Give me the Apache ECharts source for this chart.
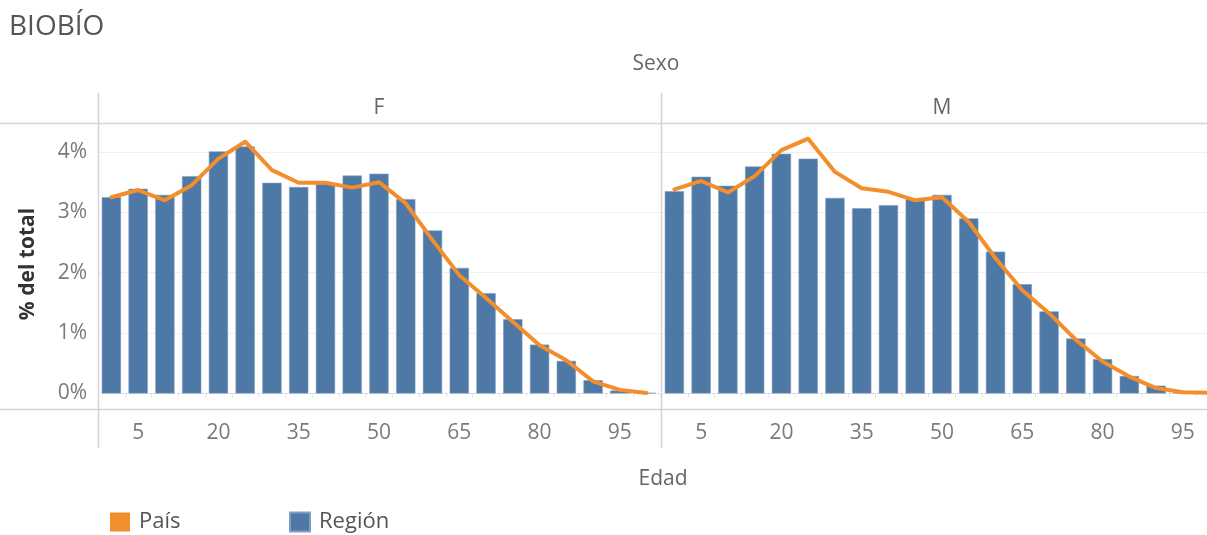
<!DOCTYPE html>
<html>
<head>
<meta charset="utf-8">
<script src="https://cdn.jsdelivr.net/npm/echarts@6/dist/echarts.min.js"></script>
<style>
  html, body { margin: 0; padding: 0; background: #fff; }
  #chart { width: 1207px; height: 535px; }
</style>
</head>
<body>
<div id="chart"></div>
<script>
// age groups (Edad), one bar per group
var ages = ["0", "5", "10", "15", "20", "25", "30", "35", "40", "45", "50",
    "55", "60", "65", "70", "75", "80", "85", "90", "95", "100"];

// % del total, mujeres
var regionF = [3.25, 3.39, 3.29, 3.60, 4.01, 4.09, 3.49, 3.42, 3.47, 3.61, 3.64,
    3.22, 2.70, 2.08, 1.66, 1.23, 0.81, 0.54, 0.22, 0.05, 0.01];
var paisF = [3.25, 3.37, 3.20, 3.45, 3.89, 4.17, 3.70, 3.49, 3.49, 3.41, 3.50,
    3.15, 2.54, 1.96, 1.58, 1.19, 0.80, 0.55, 0.20, 0.06, 0.01];

// % del total, hombres
var regionM = [3.35, 3.59, 3.44, 3.76, 3.97, 3.89, 3.24, 3.07, 3.12, 3.22, 3.29,
    2.90, 2.35, 1.81, 1.36, 0.91, 0.57, 0.29, 0.13, 0.03, 0.01];
var paisM = [3.38, 3.52, 3.33, 3.60, 4.03, 4.22, 3.67, 3.40, 3.34, 3.20, 3.25,
    2.84, 2.24, 1.71, 1.33, 0.89, 0.53, 0.28, 0.09, 0.02, 0.01];

var FONT = "'Open Sans', 'Noto Sans', sans-serif";
var BLUE = "#4e79a7";
var ORANGE = "#f28e2b";
var FRAME = "#d4d4d4";

var chart = echarts.init(document.getElementById("chart"));

var getXAxisOpts = function(gridIndex) {
    return {
        type: "category",
        gridIndex: gridIndex,
        data: ages,
        offset: 15.5,
        axisLine: { show: false },
        axisTick: {
            show: true,
            interval: 0,
            length: 4,
            lineStyle: { color: "#e6e6e6" }
        },
        axisLabel: {
            interval: function(i) { return i % 3 === 1; },
            margin: 14,
            fontSize: 21,
            fontFamily: FONT,
            color: "#7a7a7a"
        }
    };
};

var getYAxisOpts = function(gridIndex) {
    return {
        type: "value",
        gridIndex: gridIndex,
        min: 0,
        max: 4.48,
        interval: 1,
        axisLine: { show: false },
        axisTick: { show: false },
        splitLine: { lineStyle: { color: "#efefef", width: 1 } },
        axisLabel: {
            show: gridIndex === 0,
            margin: 11,
            fontSize: 21,
            fontFamily: FONT,
            color: "#7a7a7a",
            formatter: function(v) {
                return Number.isInteger(v) ? v + "%" : "";
            }
        }
    };
};

var barSeries = function(idx, values) {
    return {
        name: "Región",
        type: "bar",
        xAxisIndex: idx,
        yAxisIndex: idx,
        data: values,
        barCategoryGap: "28%",
        itemStyle: { color: BLUE, borderColor: "#7f9dc0", borderWidth: 0.6 },
        markLine: {
            silent: true,
            symbol: "none",
            label: { show: false },
            lineStyle: { color: "#b5b5b5", type: [1, 3], width: 1 },
            data: [{ yAxis: 0 }]
        },
        z: 2
    };
};

var lineSeries = function(idx, values) {
    return {
        name: "País",
        type: "line",
        xAxisIndex: idx,
        yAxisIndex: idx,
        data: values,
        symbol: "none",
        itemStyle: { color: ORANGE },
        lineStyle: { color: ORANGE, width: 4, join: "round", cap: "round" },
        z: 5
    };
};

var txt = function(text, x, y, font, color, extra) {
    var el = {
        type: "text",
        x: x,
        y: y,
        style: {
            text: text,
            x: 0,
            y: 0,
            fill: color,
            font: font,
            align: "center",
            verticalAlign: "middle"
        },
        z: 20
    };
    if (extra) {
        Object.keys(extra).forEach(function(k) { el[k] = extra[k]; });
    }
    return el;
};

var hline = function(y, x1, x2) {
    return { type: "line", shape: { x1: x1, y1: y, x2: x2, y2: y },
        style: { stroke: FRAME, lineWidth: 1.5 }, z: 15 };
};
var vline = function(x, y1, y2) {
    return { type: "line", shape: { x1: x, y1: y1, x2: x, y2: y2 },
        style: { stroke: FRAME, lineWidth: 1.5 }, z: 15 };
};

var legendOpts = function(name, left) {
    return {
        data: [name],
        left: left,
        top: 511,
        padding: 0,
        icon: "rect",
        itemWidth: 20,
        itemHeight: 19,
        selectedMode: false,
        textStyle: {
            fontSize: 22,
            fontFamily: FONT,
            color: "#555",
            padding: [0, 0, 0, 4]
        }
    };
};

var option = {
    animation: false,
    grid: [
        { left: 98, top: 123, width: 562, height: 270.5, outerBoundsMode: "none" },
        { left: 661, top: 123, width: 562, height: 270.5, outerBoundsMode: "none" }
    ],
    xAxis: [getXAxisOpts(0), getXAxisOpts(1)],
    yAxis: [getYAxisOpts(0), getYAxisOpts(1)],
    legend: [legendOpts("País", 110), legendOpts("Región", 289)],
    series: [
        barSeries(0, regionF),
        barSeries(1, regionM),
        lineSeries(0, paisF),
        lineSeries(1, paisM)
    ],
    graphic: [
        {
            type: "text",
            left: 9,
            top: 13,
            style: { text: "BIOBÍO", fill: "#555", font: "28px " + FONT },
            z: 20
        },
        txt("Sexo", 656, 64, "21px " + FONT, "#666"),
        txt("F", 379, 108, "21px " + FONT, "#666"),
        txt("M", 942, 108, "21px " + FONT, "#666"),
        txt("Edad", 663, 479, "21px " + FONT, "#666"),
        txt("% del total", 28, 264, "bold 21px " + FONT, "#333", { rotation: Math.PI / 2 }),
        hline(123.5, 0, 1207),
        hline(409.5, 0, 1207),
        vline(98.5, 93, 448),
        vline(661.5, 93, 448)
    ]
};

chart.setOption(option);
</script>
</body>
</html>
